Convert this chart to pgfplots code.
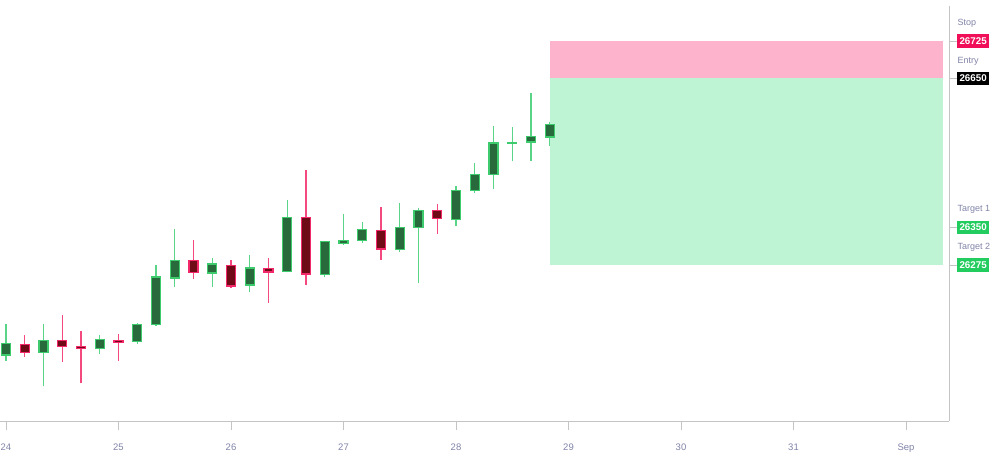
\documentclass[border=0pt]{standalone}
\usepackage{pgfplots}
\pgfplotsset{compat=1.18}
\usepgfplotslibrary{statistics}
\usepackage{fontspec}
\setmainfont{Liberation Sans}

\definecolor{gfill}{HTML}{286A3C}
\definecolor{gborder}{HTML}{3DCB6E}
\definecolor{gwick}{HTML}{5AD486}
\definecolor{rfill}{HTML}{6E0B16}
\definecolor{rborder}{HTML}{F2286A}
\definecolor{rwick}{HTML}{F4497F}
\definecolor{stopbg}{HTML}{F00F58}
\definecolor{tgtbg}{HTML}{22CC5E}
\definecolor{pinkzone}{HTML}{FCB3CB}
\definecolor{greenzone}{HTML}{BEF3D4}
\definecolor{axgray}{HTML}{C4C4C4}
\definecolor{lblgray}{HTML}{8083A8}

\pgfplotsset{
  gcandle/.style={draw=gborder, fill=gfill, line width=1.2pt,
    boxplot/every whisker/.style={draw=gwick, line width=1.2pt},
    boxplot/every median/.style={draw=gborder, line width=1.2pt}},
  rcandle/.style={draw=rborder, fill=rfill, line width=1.2pt,
    boxplot/every whisker/.style={draw=rwick, line width=1.2pt},
    boxplot/every median/.style={draw=rborder, line width=1.2pt}},
}
% candle: index (4h bars from 24 Aug), open, high, low, close
\newcommand{\bull}[5]{\addplot[gcandle, boxplot prepared={draw position={24+#1/6},
  lower whisker=#4, lower quartile=#2, median=#5, upper quartile=#5, upper whisker=#3}] coordinates {};}
\newcommand{\bear}[5]{\addplot[rcandle, boxplot prepared={draw position={24+#1/6},
  lower whisker=#4, lower quartile=#5, median=#2, upper quartile=#2, upper whisker=#3}] coordinates {};}
\newcommand{\pricetag}[2]{{\setlength{\fboxsep}{2.5pt}\colorbox{#1}{\rule[-1pt]{0pt}{8.2pt}\textcolor{white}{\bfseries #2}}}}

\begin{document}
\begin{tikzpicture}
\useasboundingbox (0,-30pt) rectangle (991pt,421pt);
\begin{axis}[
  scale only axis, width=949pt, height=415pt,
  at={(0,0)}, anchor=south west,
  xmin=23.9467, xmax=32.382, ymin=25961.6, ymax=26795.3,
  axis x line=bottom, axis y line=right,
  axis line style={-, draw=axgray, line width=0.8pt},
  tick align=outside, major tick length=9pt,
  scaled ticks=false,
  xtick={24,...,32}, xticklabels={24,25,26,27,28,29,30,31,Sep},
  xtick style={draw=axgray, line width=0.8pt},
  ytick={26275,26350,26650,26725},
  yticklabels={\pricetag{tgtbg}{26275},\pricetag{tgtbg}{26350},\pricetag{black}{26650},\pricetag{stopbg}{26725}},
  ytick style={draw=axgray, line width=0.8pt},
  yticklabel style={anchor=west, inner sep=0pt, xshift=-1.2pt, font=\fontsize{9.8}{12}\selectfont},
  xticklabel style={text=lblgray, yshift=-10pt, font=\fontsize{9.5}{12}\selectfont},
  /pgf/number format/assume math mode=true,
  boxplot/draw direction=y, boxplot/box extend=0.08, boxplot/whisker extend=0,
  clip=false,
]
\addplot[fill=greenzone, draw=none] coordinates {(28.836,26275) (32.329,26275) (32.329,26650) (28.836,26650)};
\addplot[fill=pinkzone, draw=none] coordinates {(28.836,26650) (32.329,26650) (32.329,26725) (28.836,26725)};

\bull{0}{26094}{26157}{26083}{26118}
\bear{1}{26116}{26134}{26090}{26100}
\bull{2}{26099}{26157}{26031}{26123}
\bear{3}{26124}{26175}{26081}{26111}
\bear{4}{26112}{26142}{26037}{26107}
\bull{5}{26107}{26134}{26096}{26126}
\bear{6}{26124}{26136}{26083}{26120}
\bull{7}{26122}{26158}{26116}{26156}
\bull{8}{26155}{26275}{26152}{26251}
\bull{9}{26249}{26347}{26231}{26284}
\bear{10}{26284}{26325}{26247}{26260}
\bull{11}{26259}{26289}{26231}{26277}
\bear{12}{26274}{26285}{26229}{26233}
\bull{13}{26235}{26295}{26221}{26269}
\bear{14}{26268}{26289}{26199}{26261}
\bull{15}{26262}{26406}{26260}{26371}
\bear{16}{26371}{26466}{26234}{26257}
\bull{17}{26256}{26322}{26251}{26322}
\bull{18}{26318}{26377}{26317}{26325}
\bull{19}{26325}{26361}{26319}{26346}
\bear{20}{26345}{26392}{26285}{26307}
\bull{21}{26306}{26400}{26302}{26350}
\bull{22}{26350}{26390}{26238}{26385}
\bear{23}{26385}{26398}{26338}{26369}
\bull{24}{26366}{26434}{26354}{26425}
\bull{25}{26425}{26480}{26420}{26456}
\bull{26}{26456}{26554}{26428}{26520}
\bull{27}{26519}{26552}{26483}{26521}
\bull{28}{26522}{26621}{26483}{26533}
\bull{29}{26532}{26563}{26514}{26558}
\end{axis}
\begin{scope}[every node/.style={anchor=west, text=lblgray, inner sep=0pt, font=\fontsize{9}{11}\selectfont}]
\node at (957.5pt,398pt) {Stop};
\node at (957.5pt,360pt) {Entry};
\node at (957.5pt,212pt) {Target 1};
\node at (957.5pt,174pt) {Target 2};
\end{scope}
\end{tikzpicture}
\end{document}
